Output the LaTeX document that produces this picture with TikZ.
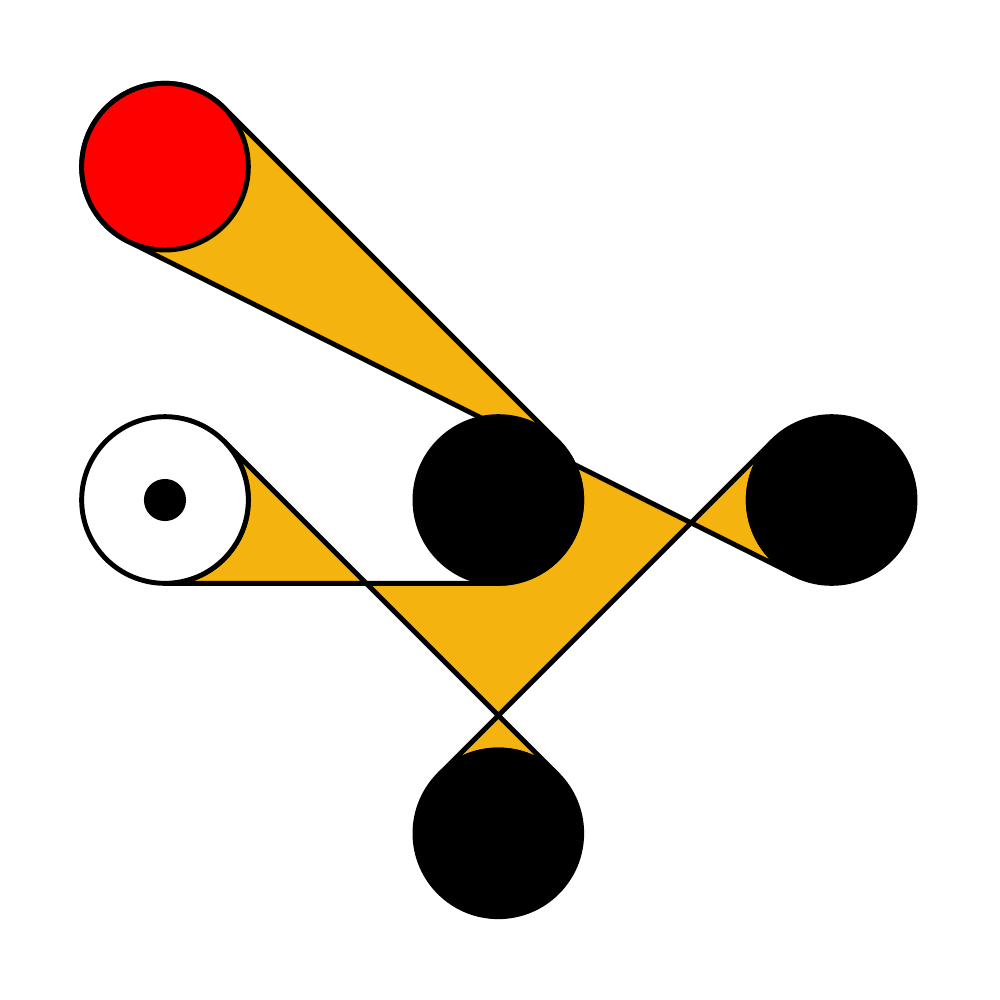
\documentclass[tikz,border=0pt]{standalone}
\definecolor{beltyellow}{RGB}{244,179,14}
\definecolor{pred}{RGB}{255,0,0}
\begin{document}
\begin{tikzpicture}[x=3.325cm,y=3.325cm,line width=1.4pt,line join=round,
  pulley/.style={circle,draw=black,line width=1.4pt,minimum size=1.6625cm,inner sep=0pt,outer sep=0pt},
  belt/.style={draw=black,fill=beltyellow,even odd rule}]
\useasboundingbox (-1.495,-1.5) rectangle (1.505,1.5);
\def\r{0.25}
\def\s{0.1767767}
% belt
\path[belt] (-1+\s,1+\s) -- (\s,\s)
  arc[start angle=45,end angle=-90,radius=\r] -- (-1,-\r)
  arc[start angle=-90,end angle=45,radius=\r] -- (\s,-1+\s)
  arc[start angle=45,end angle=135,radius=\r] -- (1-\s,\s)
  arc[start angle=135,end angle=243.4349,radius=\r] -- ({-1+\r*cos(243.4349)},{1+\r*sin(243.4349)})
  arc[start angle=243.4349,end angle=45,radius=\r] -- cycle;
% pulleys
\node[pulley,fill=pred] (red) at (-1,1) {};
\node[pulley,fill=white] (white) at (-1,0) {};
\node[circle,fill=black,minimum size=0.42cm,inner sep=0pt] (dot) at (-1,0) {};
\node[pulley,fill=black] (center) at (0,0) {};
\node[pulley,fill=black] (right) at (1,0) {};
\node[pulley,fill=black] (bottom) at (0,-1) {};
\end{tikzpicture}
\end{document}
